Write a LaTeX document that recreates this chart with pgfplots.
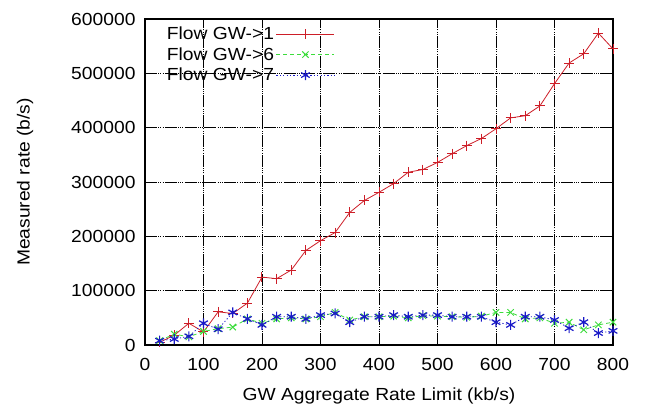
\documentclass[border=0pt]{standalone}
\usepackage{fontspec}
\setmainfont{Liberation Sans}[FakeStretch=1.1]
\usepackage{pgfplots}
\pgfplotsset{compat=1.18}
\definecolor{gpred}{RGB}{205,30,40}
\definecolor{gpgreen}{RGB}{60,220,60}
\definecolor{gpblue}{RGB}{25,25,200}
\newcommand{\fs}{\fontsize{17.5bp}{19bp}\selectfont}

\pgfplotstableread{
x    gw1     gw6    gw7
25   5000    8000   8000
50   18000   20000  11000
75   40000   15000  16000
100  24000   25000  40000
125  61000   30000  29000
150  58000   33000  60000
175  77000   48000  48000
200  125000  40000  37000
225  122000  48000  52000
250  138000  50000  52000
275  174000  48000  48000
300  192000  52000  55000
325  207000  60000  58000
350  244000  46000  42000
375  266000  52000  52000
400  281000  52000  52000
425  297000  53000  55000
450  318000  50000  52000
475  323000  54000  55000
500  336000  53000  55000
525  352000  52000  52000
550  367000  51000  52000
575  380000  53000  52000
600  398000  60000  42000
625  418000  60000  37000
650  422000  48000  52000
675  440000  50000  52000
700  481000  40000  46000
725  519000  42000  31000
750  536000  28000  42000
775  574000  37000  22000
800  545000  42000  26000
}\flows

\begin{document}
\begin{tikzpicture}
\begin{axis}[
  scale only axis,width=468bp,height=326bp,
  xmin=0,xmax=800,ymin=0,ymax=600000,
  xtick={0,100,...,800},ytick={0,100000,...,600000},
  scaled y ticks=false,
  /pgf/number format/assume math mode=true,
  yticklabel style={/pgf/number format/fixed,/pgf/number format/1000 sep={}},
  xticklabel shift=10bp,
  yticklabel shift=6bp,
  tick label style={font=\fs},
  tick align=inside,
  major tick length=6bp,
  tick style={black,line width=0.9bp},
  axis line style={black,line width=1.1bp},
  grid=major,
  grid style={black,line width=0.9bp,dash pattern=on 12bp off 1.2bp on 1bp off 1.2bp on 1bp off 1.2bp on 1bp off 1.2bp},
  xlabel={GW Aggregate Rate Limit (kb/s)},
  ylabel={Measured rate (b/s)},
  every axis x label/.style={at={(axis description cs:0.5,-0.157)},anchor=center,font=\fs},
  every axis y label/.style={at={(axis description cs:-0.256,0.5)},rotate=90,anchor=center,font=\fs},
  legend plot pos=right,
  legend cell align=right,
  legend style={draw=none,fill=none,font=\fs,
    at={(axis description cs:0.04,0.985)},anchor=north west,
    row sep=2.5bp,inner sep=1bp,
    nodes={text height=12.5bp,text depth=1.5bp},
    /tikz/every even column/.append style={column sep=10bp}},
  legend image code/.code={\draw[mark repeat=2,mark phase=2] plot coordinates {(0bp,0bp) (29bp,0bp) (58bp,0bp)};},
]
\addplot[gpred,line width=0.8bp,mark=+,mark size=5bp,mark options={solid,line width=1bp}] table[x=x,y=gw1] {\flows};
\addplot[gpgreen,line width=0.8bp,dash pattern=on 4bp off 3bp,mark=x,mark size=4.5bp,mark options={solid,line width=1bp}] table[x=x,y=gw6] {\flows};
\addplot[gpblue,line width=0.8bp,dash pattern=on 1.2bp off 2.2bp,mark=asterisk,mark size=5bp,mark options={solid,line width=1.2bp}] table[x=x,y=gw7] {\flows};
\legend{Flow GW->1,Flow GW->6,Flow GW->7}
\coordinate (bl) at (rel axis cs:0,0);
\end{axis}
\path (bl) ++(-145bp,-67bp) rectangle ++(646bp,412bp);
\end{tikzpicture}
\end{document}
